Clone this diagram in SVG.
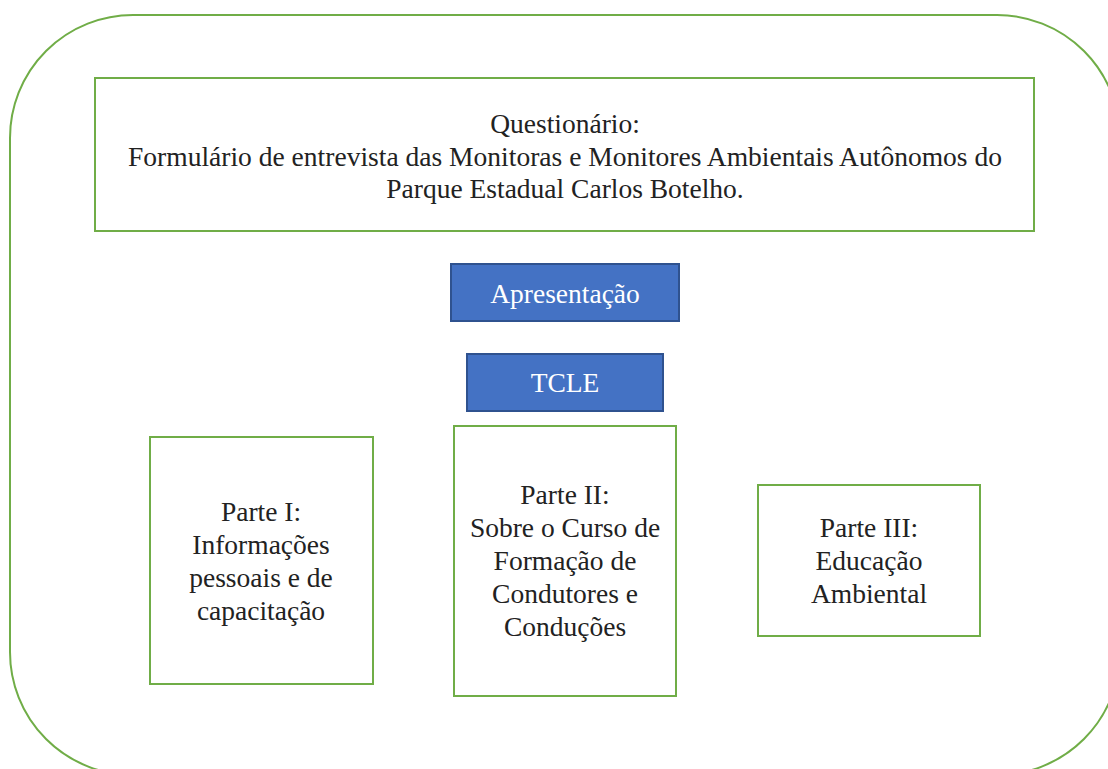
<svg xmlns="http://www.w3.org/2000/svg" width="1108" height="769" viewBox="0 0 1108 769">
<style>
.g{fill:#fff;stroke:#70AD47;stroke-width:2}
.b{fill:#4472C4;stroke:#2F528F;stroke-width:2}
.t{font-family:"Liberation Serif","Times New Roman",serif;font-size:27.5px;fill:#222;text-anchor:middle}
.w{font-family:"Liberation Serif","Times New Roman",serif;font-size:27.5px;fill:#fff;text-anchor:middle}
</style>
<rect width="1108" height="769" fill="#fff"/>
<g id="frame"><rect class="g" x="10" y="15" width="1110" height="760" rx="123" ry="123" fill="none"/></g>
<g id="questionario">
<rect class="g" x="95" y="78" width="939" height="153"/>
<text class="t" x="565" y="133">Questionário:</text>
<text class="t" x="565" y="166" textLength="874" lengthAdjust="spacingAndGlyphs">Formulário de entrevista das Monitoras e Monitores Ambientais Autônomos do</text>
<text class="t" x="565" y="198">Parque Estadual Carlos Botelho.</text>
</g>
<g id="apresentacao">
<rect class="b" x="451" y="264" width="228" height="57"/>
<text class="w" x="565" y="303">Apresentação</text>
</g>
<g id="tcle">
<rect class="b" x="467" y="354" width="196" height="57"/>
<text class="w" x="565" y="392">TCLE</text>
</g>
<g id="parte1">
<rect class="g" x="150" y="437" width="223" height="247"/>
<text class="t" x="261" y="521">Parte I:</text>
<text class="t" x="261" y="554">Informações</text>
<text class="t" x="261" y="587">pessoais e de</text>
<text class="t" x="261" y="620">capacitação</text>
</g>
<g id="parte2">
<rect class="g" x="454" y="426" width="222" height="270"/>
<text class="t" x="565" y="504">Parte II:</text>
<text class="t" x="565" y="537">Sobre o Curso de</text>
<text class="t" x="565" y="570">Formação de</text>
<text class="t" x="565" y="603">Condutores e</text>
<text class="t" x="565" y="636">Conduções</text>
</g>
<g id="parte3">
<rect class="g" x="758" y="485" width="222" height="151"/>
<text class="t" x="869" y="537">Parte III:</text>
<text class="t" x="869" y="570">Educação</text>
<text class="t" x="869" y="603">Ambiental</text>
</g>
<g id="connectors"/>
</svg>
